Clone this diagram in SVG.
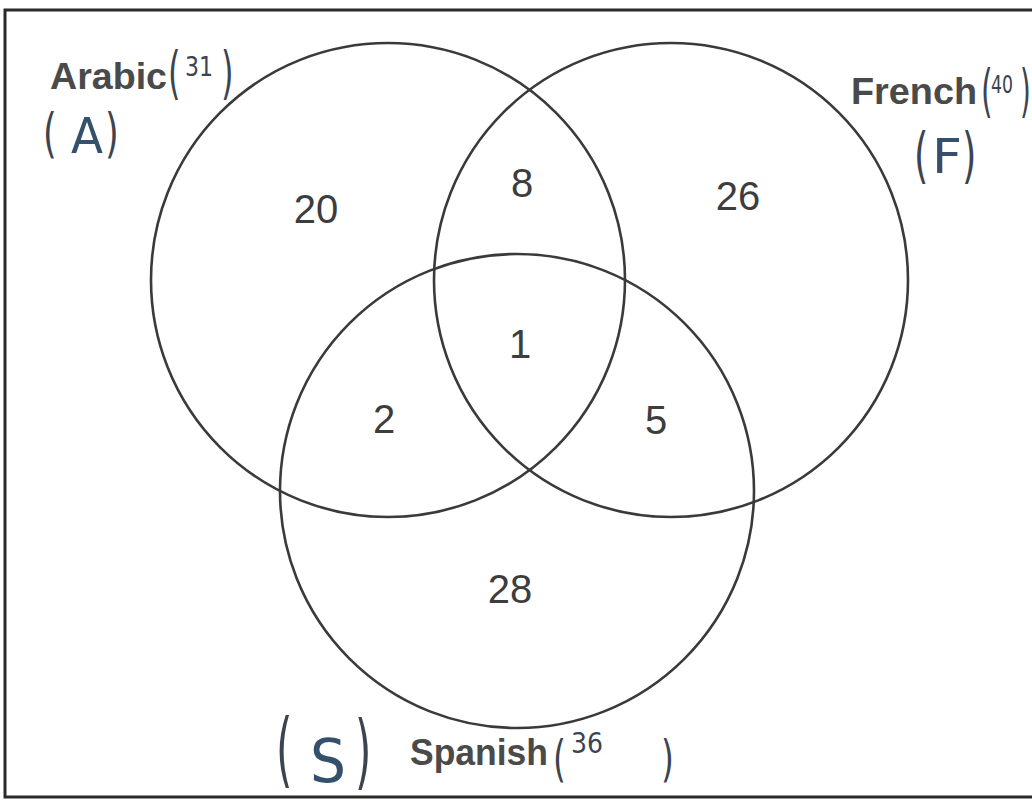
<svg xmlns="http://www.w3.org/2000/svg" width="1032" height="804" viewBox="0 0 1032 804">
<style>
.set{fill:none;stroke:#3a3a3a;stroke-width:2.6}
.num{font-family:"Liberation Sans",Arial,sans-serif;font-size:40px;fill:#3d3d3d;text-anchor:middle}
.lab{font-family:"Liberation Sans",Arial,sans-serif;font-size:36px;font-weight:bold;fill:#4a4a4a}
.hw{font-family:"DejaVu Sans","Noto Sans",sans-serif;fill:#3b4450;font-weight:normal}
.hl{font-family:"DejaVu Sans","Noto Sans",sans-serif;fill:#34506b}
</style>
<rect x="0" y="0" width="1032" height="804" fill="#ffffff"/>
<rect x="5" y="10" width="1045" height="787" fill="none" stroke="#2a2a2a" stroke-width="3"/>
<g id="arabic">
<circle class="set" cx="388" cy="280" r="237"/>
<text class="lab" x="50" y="89" textLength="117" lengthAdjust="spacingAndGlyphs">Arabic</text>
<text class="hw" x="168" y="92" font-size="46" transform="translate(168 92) scale(0.7 1.25) translate(-168 -92)">(</text>
<text class="hw" x="185" y="76" font-size="27" textLength="28" lengthAdjust="spacingAndGlyphs">31</text>
<text class="hw" x="221" y="92" font-size="46" transform="translate(221 92) scale(0.7 1.25) translate(-221 -92)">)</text>
<text class="hw" x="43" y="152" font-size="44" transform="translate(43 152) scale(0.8 1.22) translate(-43 -152)">(</text>
<text class="hl" x="71" y="153" font-size="50" textLength="32" lengthAdjust="spacingAndGlyphs">A</text>
<text class="hw" x="105" y="152" font-size="44" transform="translate(105 152) scale(0.8 1.22) translate(-105 -152)">)</text>
</g>
<g id="french">
<circle class="set" cx="671" cy="280" r="237"/>
<text class="lab" x="851" y="104" textLength="126" lengthAdjust="spacingAndGlyphs">French</text>
<text class="hw" x="981" y="110" font-size="46" transform="translate(981 110) scale(0.65 1.25) translate(-981 -110)">(</text>
<text class="hw" x="991" y="93" font-size="24" textLength="22" lengthAdjust="spacingAndGlyphs">40</text>
<text class="hw" x="1020" y="110" font-size="46" transform="translate(1020 110) scale(0.6 1.25) translate(-1020 -110)">)</text>
<text class="hw" x="914" y="176" font-size="46" transform="translate(914 176) scale(0.8 1.3) translate(-914 -176)">(</text>
<text class="hl" x="932" y="173" font-size="48" textLength="30" lengthAdjust="spacingAndGlyphs">F</text>
<text class="hw" x="962" y="176" font-size="46" transform="translate(962 176) scale(0.8 1.3) translate(-962 -176)">)</text>
</g>
<g id="spanish">
<circle class="set" cx="517" cy="491" r="237"/>
<text class="lab" x="410" y="765" textLength="138" lengthAdjust="spacingAndGlyphs">Spanish</text>
<text class="hw" x="276" y="777" font-size="56" transform="translate(276 777) scale(0.75 1.45) translate(-276 -777)">(</text>
<text class="hl" x="310" y="782" font-size="60" textLength="36" lengthAdjust="spacingAndGlyphs">S</text>
<text class="hw" x="355" y="779" font-size="56" transform="translate(355 779) scale(0.75 1.45) translate(-355 -779)">)</text>
<text class="hw" x="553" y="776" font-size="44" transform="translate(553 776) scale(0.75 1.12) translate(-553 -776)">(</text>
<text class="hw" x="571" y="753" font-size="28" textLength="32" lengthAdjust="spacingAndGlyphs">36</text>
<text class="hw" x="661" y="776" font-size="44" transform="translate(661 776) scale(0.75 1.12) translate(-661 -776)">)</text>
</g>
<g id="regions">
<text class="num" x="316" y="223">20</text>
<text class="num" x="522" y="197">8</text>
<text class="num" x="738" y="210">26</text>
<text class="num" x="520" y="358">1</text>
<text class="num" x="384" y="433">2</text>
<text class="num" x="656" y="434">5</text>
<text class="num" x="510" y="603">28</text>
</g>
</svg>
